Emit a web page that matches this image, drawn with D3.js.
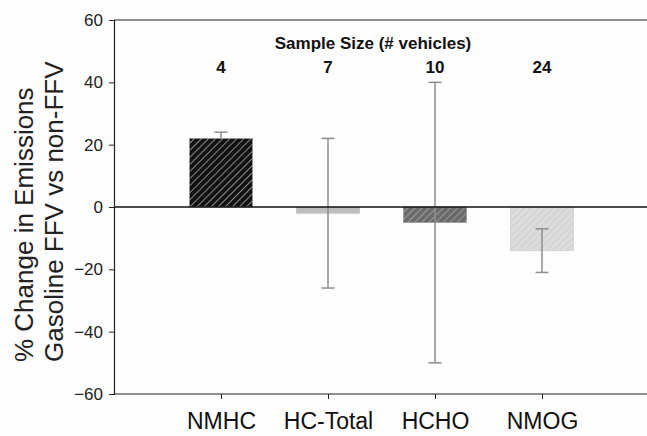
<!DOCTYPE html>
<html>
<head>
<meta charset="utf-8">
<script src="https://cdn.jsdelivr.net/npm/d3@7"></script>
<style>
  body { margin: 0; background: #fdfdfd; }
  svg { display: block; font-family: Arial, "Liberation Sans", sans-serif; }
</style>
</head>
<body>
<div id="chart"></div>
<script>
// data
const categories = ["NMHC", "HC-Total", "HCHO", "NMOG"];
const values = [22, -2, -5, -14];
const errLow = [null, -26, -50, -21];   // NMHC shows only the upper whisker
const errHigh = [24, 22, 40, -7];
const sampleSizes = [4, 7, 10, 24];
const yTicks = [-60, -40, -20, 0, 20, 40, 60];

const width = 647, height = 436;

const svg = d3.select("#chart").append("svg")
    .attr("width", width)
    .attr("height", height);

// fills: hatched patterns per bar
const defs = svg.append("defs");
function hatch(id, bg, line) {
    const p = defs.append("pattern")
        .attr("id", id)
        .attr("patternUnits", "userSpaceOnUse")
        .attr("width", 5).attr("height", 5)
        .attr("patternTransform", "rotate(45)");
    p.append("rect").attr("width", 5).attr("height", 5).attr("fill", bg);
    p.append("line").attr("x1", 0).attr("y1", 0).attr("x2", 0).attr("y2", 5)
        .attr("stroke", line).attr("stroke-width", 2);
}
hatch("h0", "#111", "#8a8a8a");
hatch("h2", "#6a6a6a", "#9a9a9a");
hatch("h3", "#d6d6d6", "#e6e6e6");
const fills = ["url(#h0)", "#bdbdbd", "url(#h2)", "url(#h3)"];
const strokes = ["#999", "#c4c4c4", "#999", "#d0d0d0"];

const x = d3.scaleLinear().domain([0, 5]).range([114, 649]);
const y = d3.scaleLinear().domain([-60, 60]).range([394, 20]);
const barHalf = 0.295;

// frame (top line, right side runs off the picture)
svg.append("line").attr("x1", x(0)).attr("x2", width).attr("y1", y(60)).attr("y2", y(60))
    .attr("stroke", "#222").attr("stroke-width", 1.2);

// bars
svg.append("g").selectAll("rect")
    .data(values)
    .join("rect")
    .attr("x", (d, i) => x(i + 1 - barHalf))
    .attr("width", x(1 + barHalf) - x(1 - barHalf))
    .attr("y", d => y(Math.max(0, d)))
    .attr("height", d => Math.abs(y(d) - y(0)))
    .attr("fill", (d, i) => fills[i])
    .attr("stroke", (d, i) => strokes[i])
    .attr("stroke-width", 0.8);

// error bars
const err = svg.append("g").attr("stroke", "#8c8c8c").attr("stroke-width", 1.5);
categories.forEach((c, i) => {
    const cx = x(i + 1);
    const lo = errLow[i] === null ? values[i] : errLow[i];
    err.append("line").attr("x1", cx).attr("x2", cx)
        .attr("y1", y(lo)).attr("y2", y(errHigh[i]));
    [errLow[i], errHigh[i]].filter(v => v !== null).forEach(v => {
        err.append("line").attr("x1", cx - 6.5).attr("x2", cx + 6.5)
            .attr("y1", y(v)).attr("y2", y(v));
    });
});

// zero line
svg.append("line").attr("x1", x(0)).attr("x2", width).attr("y1", y(0)).attr("y2", y(0))
    .attr("stroke", "#111").attr("stroke-width", 1.5);

// y axis
const yAxis = svg.append("g")
    .attr("transform", `translate(${x(0)},0)`)
    .call(d3.axisLeft(y).tickValues(yTicks).tickSize(5).tickPadding(6).tickFormat(d3.format("d")));
yAxis.select(".domain").attr("stroke", "#222").attr("stroke-width", 1.2);
yAxis.selectAll(".tick line").attr("stroke", "#222");
yAxis.selectAll(".tick text").attr("font-size", 17).attr("fill", "#222")
    .attr("font-family", "Arial, 'Liberation Sans', sans-serif");

// x axis
const xAxis = svg.append("g")
    .attr("transform", `translate(0,${y(-60)})`)
    .call(d3.axisBottom(x).tickValues([1, 2, 3, 4]).tickSize(5).tickPadding(14)
        .tickFormat(d => categories[d - 1]));
xAxis.select(".domain").remove();
xAxis.append("line").attr("x1", x(0)).attr("x2", width).attr("stroke", "#222").attr("stroke-width", 1.2);
xAxis.selectAll(".tick line").attr("stroke", "#222");
xAxis.selectAll(".tick text").attr("font-size", 23).attr("fill", "#111")
    .attr("font-family", "Arial, 'Liberation Sans', sans-serif");

// sample sizes
svg.append("text")
    .attr("x", 373).attr("y", 49)
    .attr("text-anchor", "middle")
    .attr("font-size", 17).attr("font-weight", "bold").attr("fill", "#111")
    .text("Sample Size (# vehicles)");
svg.append("g").selectAll("text")
    .data(sampleSizes)
    .join("text")
    .attr("x", (d, i) => x(i + 1))
    .attr("y", 73)
    .attr("text-anchor", "middle")
    .attr("font-size", 17).attr("font-weight", "bold").attr("fill", "#111")
    .text(d => d);

// y title
const yTitle = svg.append("text")
    .attr("transform", "translate(0,362) rotate(-90)")
    .attr("font-size", 26).attr("fill", "#222");
yTitle.append("tspan").attr("x", 0).attr("y", 33).text("% Change in Emissions");
yTitle.append("tspan").attr("x", 0).attr("y", 63).text("Gasoline FFV vs non-FFV");
</script>
</body>
</html>
